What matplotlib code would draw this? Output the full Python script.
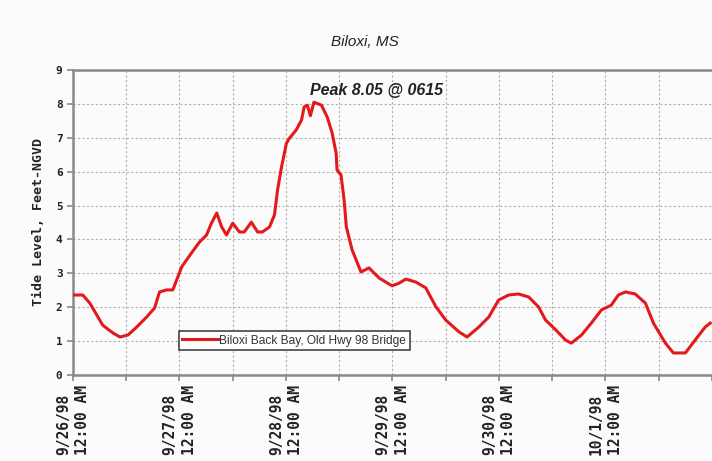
"""
Biloxi tide level chart (Hurricane Georges, Sept 1998)
"""
import matplotlib
matplotlib.use('Agg')
import matplotlib.pyplot as plt
from matplotlib.ticker import MultipleLocator

# hours since 9/26/98 12:00 AM
hours = [0, 2.2, 3.8, 6.7, 9.0, 10.6, 12.4, 14.4, 16.6, 18.4, 19.5, 21.1, 22.5,
         24.5, 26.7, 28.5, 30.1, 31.2, 32.4, 33.5, 34.6, 36.0, 37.5, 38.6, 40.2,
         41.6, 42.7, 44.3, 45.4, 46.1, 47.0, 48.1, 48.8, 50.3, 51.5, 52.1, 52.8,
         53.5, 54.3, 56.0, 57.3, 58.4, 59.3, 59.5, 60.4, 61.1, 61.6, 62.9, 64.9,
         66.7, 69.0, 71.9, 73.5, 75.0, 77.3, 79.5, 81.8, 84.0, 87.0, 88.8, 91.5,
         93.7, 95.9, 98.2, 100.4, 102.7, 104.9, 106.5, 108.8, 111.0, 112.3, 114.6,
         116.8, 119.1, 121.3, 122.9, 124.5, 126.7, 129.0, 130.8, 133.5, 135.3,
         138.0, 140.2, 142.5, 143.6]
# tide level, feet NGVD
levels = [2.36, 2.36, 2.12, 1.47, 1.24, 1.12, 1.18, 1.42, 1.71, 1.98, 2.45, 2.51, 2.51,
          3.19, 3.60, 3.92, 4.13, 4.48, 4.78, 4.37, 4.13, 4.48, 4.22, 4.22, 4.51,
          4.22, 4.22, 4.37, 4.72, 5.46, 6.14, 6.84, 6.99, 7.23, 7.52, 7.91, 7.96,
          7.65, 8.05, 7.96, 7.61, 7.14, 6.55, 6.05, 5.90, 5.16, 4.37, 3.69, 3.04,
          3.16, 2.86, 2.63, 2.71, 2.83, 2.74, 2.57, 2.01, 1.62, 1.27, 1.12, 1.42,
          1.71, 2.21, 2.36, 2.39, 2.30, 2.01, 1.62, 1.33, 1.03, 0.94, 1.18,
          1.53, 1.92, 2.06, 2.36, 2.45, 2.39, 2.12, 1.53, 0.94, 0.65,
          0.65, 1.03, 1.42, 1.53]

day_ticks = [0, 24, 48, 72, 96, 120]
day_labels = ['9/26/98\n12:00 AM', '9/27/98\n12:00 AM', '9/28/98\n12:00 AM',
              '9/29/98\n12:00 AM', '9/30/98\n12:00 AM', '10/1/98\n12:00 AM']

series_name = 'Biloxi Back Bay, Old Hwy 98 Bridge'
peak_text = 'Peak 8.05 @ 0615'

mono = 'DejaVu Sans Mono'
bg = '#fbfbfb'

fig = plt.figure(figsize=(7.12, 4.61), dpi=100, facecolor=bg)
ax = fig.add_axes([0.1025, 0.1866, 0.8975, 0.6616], facecolor=bg)

ax.plot(hours, levels, color='#e3191c', lw=2.2, label=series_name, zorder=3,
        solid_joinstyle='round')

ax.set_xlim(0, 144)
ax.set_ylim(0, 9)

# grid every 12 hours / every foot
ax.xaxis.set_minor_locator(MultipleLocator(12))
ax.set_xticks(day_ticks)
ax.set_xticklabels(day_labels, rotation=90, family=mono, fontweight='bold',
                   fontsize=10.5, color='#222222', linespacing=1.35,
                   multialignment='left')
ax.yaxis.set_major_locator(MultipleLocator(1))
for lbl in ax.get_yticklabels():
    lbl.set_family(mono)
    lbl.set_fontweight('bold')
    lbl.set_fontsize(8)
    lbl.set_color('#222222')

ax.grid(True, which='both', color='#b0b0b0', linestyle=(0, (2, 2)), lw=0.8)
ax.tick_params(axis='both', which='both', direction='out', length=4,
               width=1.2, color='#888888')
ax.tick_params(axis='x', pad=3)

for side in ['left', 'bottom', 'top']:
    ax.spines[side].set_color('#8a8a8a')
    ax.spines[side].set_linewidth(1.8)
ax.spines['right'].set_visible(False)

ax.set_ylabel('Tide Level, Feet-NGVD', family=mono, fontweight='bold',
              fontsize=9.5, color='#222222', labelpad=8)

fig.text(0.5126, 0.909, 'Biloxi, MS', ha='center', va='center',
         fontsize=11, style='italic', family='Liberation Sans', color='#222222')

ax.text(68.3, 8.4, peak_text, ha='center', va='center', fontsize=11.5,
        style='italic', fontweight='bold', family='Liberation Sans', color='#222222')

leg = ax.legend(loc='lower left', bbox_to_anchor=(0.156, 0.062), fontsize=8.6,
                fancybox=False, framealpha=1, edgecolor='#444444',
                borderpad=0.3, handlelength=3.0, handletextpad=0.1)
leg.get_frame().set_linewidth(1.2)
for t in leg.get_texts():
    t.set_family('Liberation Sans')
    t.set_color('#333333')

plt.savefig('out.png', dpi=100, facecolor=bg)
plt.close(fig)
